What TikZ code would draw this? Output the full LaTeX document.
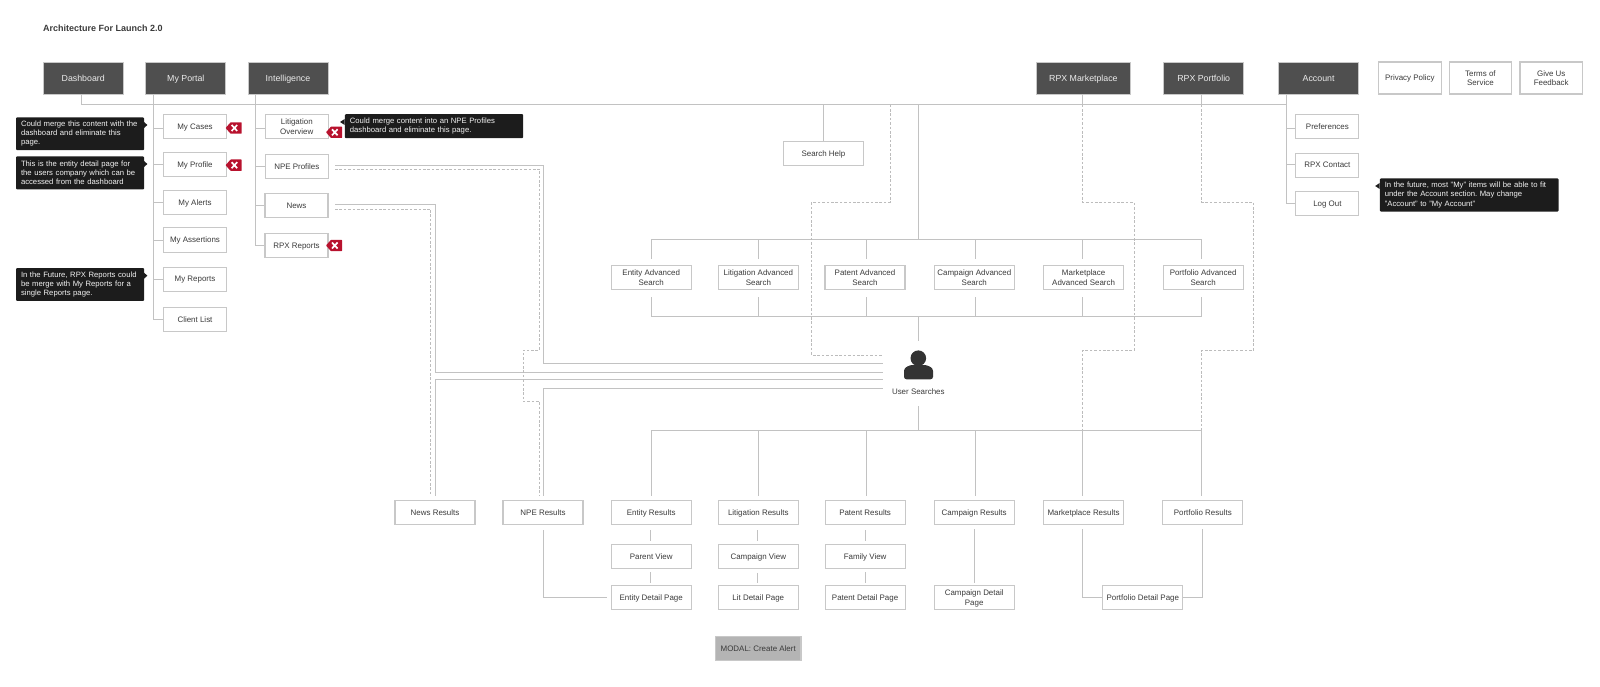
\documentclass[tikz,border=0pt]{standalone}
\usepackage{fontspec}
\setmainfont{Liberation Sans}
\frenchspacing
\usetikzlibrary{arrows.meta}

\definecolor{cLine}{HTML}{C2C2C2}
\definecolor{cDash}{HTML}{BCBCBC}
\definecolor{cBorder}{HTML}{C8C8C8}
\definecolor{cNav}{HTML}{4F4F4F}
\definecolor{cNote}{HTML}{1C1C1C}
\definecolor{cTag}{HTML}{B8122E}
\definecolor{cText}{HTML}{3A3A3A}

\tikzset{
    txt/.style={font=\fontsize{7.95}{9.7}\selectfont, text=cText, align=center, inner sep=0pt, text depth=0pt},
    navbox/.style={txt, draw=cBorder, line width=0.9pt, fill=cNav, text=white!92!black, minimum width=80pt, minimum height=32pt, font=\fontsize{8.8}{10.5}\selectfont},
    pagebox/.style={txt, draw=cBorder, line width=1.1pt, fill=white, minimum width=80pt, minimum height=24.2pt},
    sidebox/.style={pagebox, minimum width=63pt},
    linkbox/.style={pagebox, minimum width=62.5pt, minimum height=32pt},
    notebox/.style={font=\fontsize{7.7}{9.1}\selectfont, text=white!95!black, fill=cNote, rounded corners=1pt, align=left, anchor=north west, inner xsep=5pt, inner ysep=0pt},
    link/.style={draw=cLine, line width=0.9pt},
    dashlink/.style={draw=cDash, line width=0.8pt, dash pattern=on 2.6pt off 1.8pt},
    redtag/.pic={
        \fill[cTag, rounded corners=0.5pt] (-8,0) -- (-3,-5.7) -- (8,-5.7) -- (8,5.7) -- (-3,5.7) -- cycle;
        \draw[white, line width=1.7pt] (-2,-3) -- (3.6,3) (-2,3) -- (3.6,-3);
    },
}

\begin{document}
\begin{tikzpicture}[x=1pt,y=-1pt]
    \useasboundingbox (0,0) rectangle (1600,687);

    % variables
    \pgfmathsetmacro{\vSearchY}{277.8}
    \pgfmathsetmacro{\vResultY}{512.2}
    \pgfmathsetmacro{\vDetailY}{597.6}

    \node[anchor=west, inner sep=0pt, text=cText, font=\fontsize{9}{10}\selectfont\bfseries] (nTitle) at (43,28) {Architecture For Launch 2.0};

    % top navigation
    \node[navbox] (nDashboard) at (83.2,78.2) {Dashboard};
    \node[navbox] (nPortal) at (185.8,78.2) {My Portal};
    \node[navbox] (nIntel) at (288,78.2) {Intelligence};
    \node[navbox, minimum width=93.4pt] (nMarket) at (1083.4,78.2) {RPX Marketplace};
    \node[navbox] (nPortfolio) at (1203.7,78.2) {RPX Portfolio};
    \node[navbox] (nAccount) at (1318.6,78.2) {Account};
    \node[linkbox] (nPrivacy) at (1409.8,78) {Privacy Policy};
    \node[linkbox] (nTerms) at (1480.4,78) {Terms of\\Service};
    \node[linkbox] (nFeedback) at (1551.2,78) {Give Us\\Feedback};

    % my portal
    \node[sidebox] (nCases) at (195,126.7) {My Cases};
    \node[sidebox] (nProfile) at (195,164.3) {My Profile};
    \node[sidebox] (nAlerts) at (195,202.3) {My Alerts};
    \node[sidebox] (nAssert) at (195,240) {My Assertions};
    \node[sidebox] (nReports) at (195,279.2) {My Reports};
    \node[sidebox] (nClient) at (195,319.7) {Client List};

    % intelligence
    \node[sidebox] (nLitOver) at (296.8,126.7) {Litigation\\Overview};
    \node[sidebox] (nNpeProf) at (296.8,166.2) {NPE Profiles};
    \node[sidebox] (nNews) at (296.5,205.7) {News};
    \node[sidebox] (nRpxRep) at (296.5,245.7) {RPX Reports};

    % account
    \node[sidebox] (nPrefs) at (1327.4,126.5) {Preferences};
    \node[sidebox] (nContact) at (1327.4,165.2) {RPX Contact};
    \node[sidebox] (nLogOut) at (1327.4,203.5) {Log Out};

    \node[pagebox] (nHelp) at (823.4,153.2) {Search Help};

    % advanced search
    \node[pagebox] (nSearchEntity) at (651.2,\vSearchY) {Entity Advanced\\Search};
    \node[pagebox] (nSearchLit) at (758.4,\vSearchY) {Litigation Advanced\\Search};
    \node[pagebox] (nSearchPatent) at (865,\vSearchY) {Patent Advanced\\Search};
    \node[pagebox] (nSearchCamp) at (974.3,\vSearchY) {Campaign Advanced\\Search};
    \node[pagebox] (nSearchMarket) at (1083.6,\vSearchY) {Marketplace\\Advanced Search};
    \node[pagebox] (nSearchPort) at (1203.1,\vSearchY) {Portfolio Advanced\\Search};

    % results
    \node[pagebox] (nResNews) at (435,\vResultY) {News Results};
    \node[pagebox] (nResNpe) at (543,\vResultY) {NPE Results};
    \node[pagebox] (nResEntity) at (651.2,\vResultY) {Entity Results};
    \node[pagebox] (nResLit) at (758.3,\vResultY) {Litigation Results};
    \node[pagebox] (nResPatent) at (865.1,\vResultY) {Patent Results};
    \node[pagebox] (nResCamp) at (974.2,\vResultY) {Campaign Results};
    \node[pagebox] (nResMarket) at (1083.5,\vResultY) {Marketplace Results};
    \node[pagebox] (nResPort) at (1202.8,\vResultY) {Portfolio Results};

    \node[pagebox] (nParent) at (651.2,556.2) {Parent View};
    \node[pagebox] (nCampView) at (758.3,556.8) {Campaign View};
    \node[pagebox] (nFamily) at (865.1,556.3) {Family View};

    \node[pagebox] (nDetEntity) at (651.2,\vDetailY) {Entity Detail Page};
    \node[pagebox] (nDetLit) at (758.3,\vDetailY) {Lit Detail Page};
    \node[pagebox] (nDetPatent) at (865.1,\vDetailY) {Patent Detail Page};
    \node[pagebox] (nDetCamp) at (974.2,\vDetailY) {Campaign Detail\\Page};
    \node[pagebox] (nDetPort) at (1142.8,\vDetailY) {Portfolio Detail Page};

    \node[pagebox, minimum width=85.5pt, fill=cBorder!90!black] (nModal) at (758.2,648.3) {MODAL: Create Alert};

    % user searches
    \fill[cNote!90!white] (918.3,358.2) circle (7.8);
    \fill[cNote!90!white, rounded corners=2.5pt] (904,379.3) -- (904,368.5) -- (910,365) -- (926.8,365) -- (933,368.5) -- (933,379.3) -- cycle;
    \node[txt] (nUser) at (918.3,391.3) {User Searches};
    \coordinate (cUserW) at (882.9,372);
    \coordinate (cUserN) at (918.3,340.7);
    \coordinate (cUserS) at (918.3,406);

    % buses
    \coordinate (cMain) at (1286.4,104.7);
    \coordinate (cTopBus) at (918.3,239.7);
    \coordinate (cMidBus) at (918.3,316);
    \coordinate (cLowBus) at (918.3,430.3);
    \coordinate (cPortalX) at (153.2,0);
    \coordinate (cIntelX) at (255.5,0);

    \draw[link] ([xshift=-1.7pt]nDashboard.south) |- (cMain);
    \draw[link] ([xshift=-1pt]nMarket.south) -- ++(0,10);
    \draw[link] ([xshift=-2pt]nPortfolio.south) -- ++(0,10);
    \draw[link] (cMain |- nAccount.south) |- ([yshift=0.5pt]nLogOut.west);
    \draw[link] (cMain |- nPrefs.west) ++(0,2.2) -- ([yshift=-2.2pt]nPrefs.west);
    \draw[link] (cMain |- nContact.west) ++(0,-0.9) -- ([yshift=0.9pt]nContact.west);

    \draw[link] (cPortalX |- nPortal.south) |- (nClient.west);
    \draw[link] (cPortalX |- nCases.west) ++(0,2) -- ([yshift=-2pt]nCases.west);
    \draw[link] (cPortalX |- nProfile.west) -- (nProfile.west);
    \draw[link] (cPortalX |- nAlerts.west) -- (nAlerts.west);
    \draw[link] (cPortalX |- nAssert.west) -- (nAssert.west);
    \draw[link] (cPortalX |- nReports.west) -- (nReports.west);

    \draw[link] (cIntelX |- nIntel.south) |- (nRpxRep.west);
    \draw[link] (cIntelX |- nLitOver.west) ++(0,2) -- ([yshift=-2pt]nLitOver.west);
    \draw[link] (cIntelX |- nNpeProf.west) -- (nNpeProf.west);
    \draw[link] (cIntelX |- nNews.west) -- (nNews.west);

    \draw[link] (nHelp.north |- cMain) -- (nHelp.north);
    \draw[link] (cTopBus |- cMain) -- (cTopBus);
    \draw[link] (nSearchEntity.north |- cTopBus) -- ++(0,19.6);
    \draw[link] (nSearchEntity.north |- cTopBus) -- ++(550.5,0) -- ++(0,19.6);
    \draw[link] (758.9,239.7) -- ++(0,19.6);
    \draw[link] (866.4,239.7) -- ++(0,19.6);
    \draw[link] (975.7,239.7) -- ++(0,19.6);
    \draw[link] (1082.5,239.7) -- ++(0,19.6);

    \draw[link] (nSearchEntity.south |- cMidBus) -- ++(0,-19.3);
    \draw[link] (nSearchEntity.south |- cMidBus) -- ++(550.5,0) -- ++(0,-19.3);
    \draw[link] (758.9,316) -- ++(0,-19.3);
    \draw[link] (866.4,316) -- ++(0,-19.3);
    \draw[link] (975.7,316) -- ++(0,-19.3);
    \draw[link] (1082.5,316) -- ++(0,-19.3);
    \draw[link] (cMidBus) -- (cUserN);

    \draw[link] (cUserS) -- (cLowBus);
    \draw[link] (nResEntity.north |- cLowBus) -- ++(0,65.4);
    \draw[link] (nResEntity.north |- cLowBus) -- ++(550.5,0) -- ++(0,65.4);
    \draw[link] (758.9,430.3) -- ++(0,65.4);
    \draw[link] (866.4,430.3) -- ++(0,65.4);
    \draw[link] (975.7,430.3) -- ++(0,65.4);
    \draw[link] (1082.5,430.3) -- ++(0,65.4);

    % to and from user searches
    \draw[link] (335,165.7) -| (543.2,363) -- (cUserW |- 0,363);
    \draw[link] (335,204.7) -| (435.7,372.7) -- (cUserW |- 0,372.7);
    \draw[link] (cUserW |- 0,379.5) -| (435.7,495.7);
    \draw[link] (cUserW |- 0,388.6) -| (543.2,495.7);

    \draw[dashlink] (335,169) -| (539.6,350) -| (523.2,401.7) -| (539.6,495.7);
    \draw[dashlink] (335,209) -| (430.7,495.7);
    \draw[dashlink] (890,104.7) |- (811.8,202.3) |- (cUserW |- 0,355.3);
    \draw[dashlink] (1082.5,104.7) |- (1134,202.3) |- (1082.5,350.3) -- (1082.5,430.3);
    \draw[dashlink] (1201.7,104.7) |- (1253.4,202.3) |- (1201.7,350.3) -- (1201.7,430.3);

    % result pages
    \draw[link] ([xshift=-0.8pt,yshift=-5.3pt]nResEntity.south) -- ([xshift=-0.8pt,yshift=3pt]nParent.north);
    \draw[link] ([xshift=-0.8pt,yshift=-3.5pt]nParent.south) -- ([xshift=-0.8pt,yshift=2.3pt]nDetEntity.north);
    \draw[link] ([xshift=-0.4pt,yshift=-5.3pt]nResLit.south) -- ([xshift=-0.4pt,yshift=3pt]nCampView.north);
    \draw[link] ([xshift=-0.4pt,yshift=-3.5pt]nCampView.south) -- ([xshift=-0.4pt,yshift=2.3pt]nDetLit.north);
    \draw[link] ([xshift=0.3pt,yshift=-5.3pt]nResPatent.south) -- ([xshift=0.3pt,yshift=3pt]nFamily.north);
    \draw[link] ([xshift=0.3pt,yshift=-3.5pt]nFamily.south) -- ([xshift=0.3pt,yshift=2.3pt]nDetPatent.north);
    \draw[link] ([yshift=-4.5pt]nResCamp.south) -- ([yshift=1.5pt]nDetCamp.north);
    \draw[link] ([yshift=-5.3pt]nResNpe.south) |- ([xshift=-4pt]nDetEntity.west);
    \draw[link] ([xshift=-1pt,yshift=-4.5pt]nResMarket.south) |- (nDetPort.west);
    \draw[link] ([yshift=-4.5pt]nResPort.south) |- (nDetPort.east);

    % notes
    \node[notebox, minimum height=32.7pt, text width=118.2pt] (nNoteCases) at (15.8,117.3) {Could merge this content with the\\dashboard and eliminate this\\page.};
    \node[notebox, minimum height=33pt, text width=118.2pt] (nNoteProfile) at (15.8,156.3) {This is the entity detail page for\\the users company which can be\\accessed from the dashboard};
    \node[notebox, minimum height=32.7pt, text width=118.2pt] (nNoteReports) at (15.8,268) {In the Future, RPX Reports could\\be merge with My Reports for a\\single Reports page.};
    \node[notebox, minimum height=24pt, text width=168.3pt] (nNoteLit) at (344.7,114) {Could merge content into an NPE Profiles\\dashboard and eliminate this page.};
    \node[notebox, minimum height=33pt, text width=168.7pt] (nNoteAccount) at (1379.6,178.3) {In the future, most "My" items will be able to fit\\under the Account section. May change\\"Account" to "My Account"};

    \fill[cNote] (147.4,125) -- (144,122) -- (144,128) -- cycle;
    \fill[cNote] (147.4,164) -- (144,161) -- (144,167) -- cycle;
    \fill[cNote] (147.4,275.7) -- (144,272.7) -- (144,278.7) -- cycle;
    \fill[cNote] (340,122) -- (344.7,119) -- (344.7,125) -- cycle;
    \fill[cNote] (1375.2,186) -- (1379.6,183) -- (1379.6,189) -- cycle;

    % remove tags
    \pic at (233.6,128) {redtag};
    \pic at (233.6,165.2) {redtag};
    \pic at (334,132.3) {redtag};
    \pic at (334,245.5) {redtag};
\end{tikzpicture}
\end{document}
